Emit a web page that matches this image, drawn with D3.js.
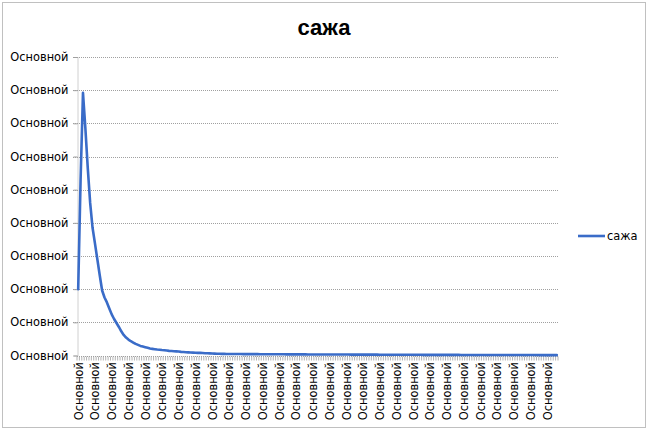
<!DOCTYPE html>
<html>
<head>
<meta charset="utf-8">
<script src="https://cdn.jsdelivr.net/npm/d3@7/dist/d3.min.js"></script>
<style>
  html, body { margin: 0; padding: 0; background: #fff; }
  svg { display: block; }
  text { font-family: "DejaVu Sans", sans-serif; fill: #000; }
</style>
</head>
<body>
<svg id="chart" width="649" height="430"></svg>
<script>
const title = "сажа";
const seriesName = "сажа";
const yTickLabels = ["Основной","Основной","Основной","Основной","Основной","Основной","Основной","Основной","Основной","Основной"];
const yTickValues = [0,1,2,3,4,5,6,7,8,9];
const categoryLabel = "Основной";
const values = [
  2.0, 5.3, 7.92, 6.85, 5.65, 4.6, 3.85, 3.38, 2.9, 2.42, 1.96, 1.75, 1.6, 1.42, 1.24, 1.1, 0.98, 0.86, 0.73, 0.62, 0.54, 0.48, 0.43, 0.39, 0.35, 0.32, 0.29, 0.27, 0.25, 0.23, 0.21,
  0.2, 0.19, 0.18, 0.175, 0.165, 0.16, 0.15, 0.14, 0.135, 0.13, 0.125, 0.12, 0.11, 0.105, 0.1, 0.095, 0.09, 0.088, 0.085, 0.08, 0.078, 0.075, 0.07, 0.068, 0.065, 0.06, 0.058, 0.055, 0.052, 0.05,
  0.048, 0.047, 0.046, 0.045, 0.045, 0.044, 0.043, 0.043, 0.042, 0.042, 0.041, 0.041, 0.04, 0.04, 0.04, 0.039, 0.039, 0.038, 0.038, 0.038,
  0.037, 0.037, 0.037, 0.036, 0.036, 0.036, 0.035, 0.035, 0.035, 0.034, 0.034, 0.034, 0.033, 0.033, 0.033, 0.032, 0.032, 0.032, 0.031, 0.031,
  0.031, 0.03, 0.03, 0.03, 0.03, 0.029, 0.029, 0.029, 0.029, 0.028, 0.028, 0.028, 0.028, 0.027, 0.027, 0.027, 0.027, 0.026, 0.026, 0.026,
  0.026, 0.025, 0.025, 0.025, 0.025, 0.024, 0.024, 0.024, 0.024, 0.023, 0.023, 0.023, 0.023, 0.022, 0.022, 0.022, 0.022, 0.022, 0.021, 0.021,
  0.021, 0.021, 0.021, 0.02, 0.02, 0.02, 0.02, 0.02, 0.019, 0.019, 0.019, 0.019, 0.019, 0.018, 0.018, 0.018, 0.018, 0.018, 0.018, 0.017,
  0.017, 0.017, 0.017, 0.017, 0.017, 0.016, 0.016, 0.016, 0.016, 0.016, 0.016, 0.015, 0.015, 0.015, 0.015, 0.015, 0.015, 0.015, 0.014, 0.014,
  0.014, 0.014, 0.014, 0.014, 0.014, 0.013, 0.013, 0.013, 0.013, 0.013, 0.013, 0.013, 0.012, 0.012, 0.012, 0.012, 0.012, 0.012, 0.012, 0.012
];
const categories = values.map(() => categoryLabel);
const labelEvery = 7;

const svg = d3.select("#chart");
const plot = { left: 77, right: 558, top: 57, bottom: 355.5 };
const gridColor = "#a0a0a0";
const lineColor = "#3a6cc8";
const labelFont = "11.4px";

// outer border
svg.append("rect")
  .attr("x", 2.5).attr("y", 2.5).attr("width", 643).attr("height", 425)
  .attr("fill", "none").attr("stroke", "#808080").attr("stroke-width", 1)
  .attr("stroke-dasharray", "1,1");

// title
svg.append("text")
  .attr("x", 324).attr("y", 35)
  .attr("text-anchor", "middle")
  .style("font-family", "'Liberation Sans', Arial, sans-serif")
  .style("font-weight", "bold").style("font-size", "22px")
  .text(title);

const idx = d3.range(values.length);
const x = d3.scaleBand().domain(idx).range([plot.left, plot.right]).padding(0);
const y = d3.scaleLinear().domain([0, 9]).range([plot.bottom, plot.top]);
const cx = i => x(i) + x.bandwidth() / 2;

// gridlines
svg.append("g").selectAll("line").data(yTickValues.slice(1)).join("line")
  .attr("x1", plot.left - 4).attr("x2", plot.right)
  .attr("y1", d => Math.round(y(d)) + 0.5).attr("y2", d => Math.round(y(d)) + 0.5)
  .attr("stroke", gridColor).attr("stroke-width", 1).attr("stroke-dasharray", "1,1");

// y axis
const yAxisG = svg.append("g").attr("transform", `translate(${plot.left + 0.5},0)`)
  .call(d3.axisLeft(y).tickValues(yTickValues).tickFormat((d, i) => yTickLabels[i]).tickSize(4).tickPadding(5));
yAxisG.select(".domain").attr("stroke", gridColor).attr("stroke-dasharray", "1,1");
yAxisG.selectAll(".tick line").attr("stroke", gridColor);
yAxisG.selectAll(".tick text").style("font-size", labelFont).style("font-family", "'DejaVu Sans', sans-serif");

// x axis
const baseY = Math.round(plot.bottom) + 0.5;
svg.append("line").attr("x1", plot.left).attr("x2", plot.right)
  .attr("y1", baseY).attr("y2", baseY).attr("stroke", gridColor).attr("stroke-dasharray", "1,1");
const tickXs = idx.map(i => x(i)).concat([plot.right]);
svg.append("g").selectAll("line").data(tickXs).join("line")
  .attr("x1", d => d).attr("x2", d => d)
  .attr("y1", baseY).attr("y2", baseY + 4)
  .attr("stroke", gridColor).attr("stroke-width", 0.8);

svg.append("g").selectAll("text").data(idx.filter(i => i % labelEvery === 0)).join("text")
  .attr("transform", i => `translate(${cx(i) + 0.5},362) rotate(-90)`)
  .attr("text-anchor", "end").attr("dy", "0.35em")
  .style("font-size", labelFont)
  .text(i => categories[i]);

// series line
const line = d3.line().x((d, i) => cx(i)).y(d => y(d));
svg.append("path").datum(values)
  .attr("fill", "none").attr("stroke", lineColor).attr("stroke-width", 2.6)
  .attr("stroke-linejoin", "round").attr("stroke-linecap", "round")
  .attr("d", line);

// legend
svg.append("line").attr("x1", 578).attr("x2", 605).attr("y1", 236).attr("y2", 236)
  .attr("stroke", lineColor).attr("stroke-width", 2.6);
svg.append("text").attr("x", 607).attr("y", 236).attr("dy", "0.35em")
  .style("font-size", labelFont).text(seriesName);
</script>
</body>
</html>
